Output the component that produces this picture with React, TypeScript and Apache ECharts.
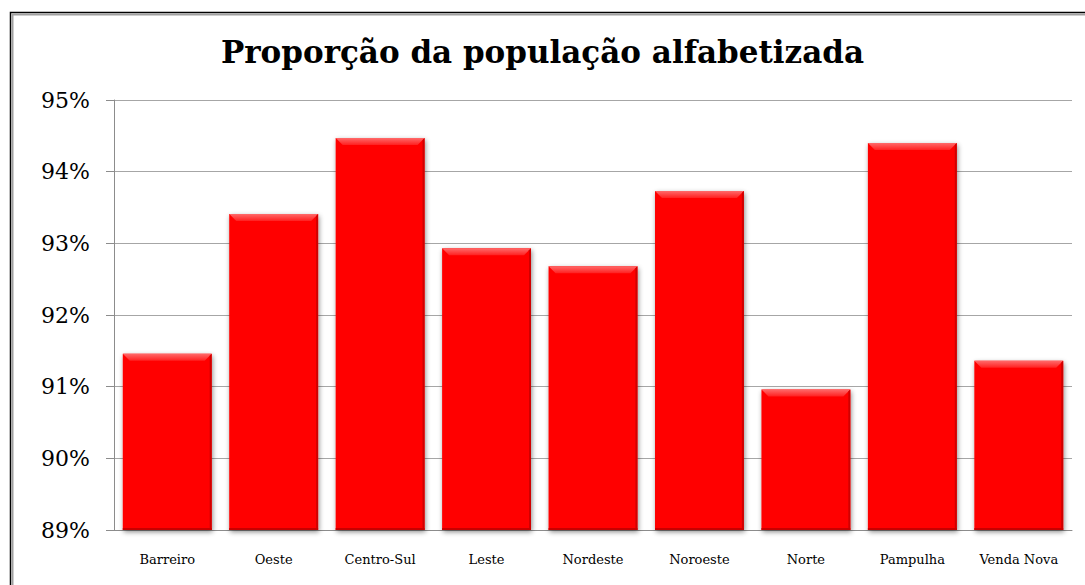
import React, { useEffect, useRef } from "react";
import * as echarts from "echarts";

const categories = ["Barreiro", "Oeste", "Centro-Sul", "Leste", "Nordeste", "Noroeste", "Norte", "Pampulha", "Venda Nova"];
const values = [91.46, 93.41, 94.47, 92.93, 92.68, 93.73, 90.96, 94.4, 91.36];
const yTicks = [89, 90, 91, 92, 93, 94, 95];
const title = "Proporção da população alfabetizada";

export default function App() {
  const ref = useRef<HTMLDivElement>(null);
  useEffect(() => {
    const chart = echarts.init(ref.current!, undefined, { renderer: "svg" });
    const serif = "'DejaVu Serif', 'Liberation Serif', serif";
    chart.setOption({
      animation: false,
      backgroundColor: "#ffffff",
      title: {
        text: title,
        left: "center",
        top: 31,
        textStyle: { fontFamily: serif, fontWeight: "bold", fontSize: 31, color: "#000" },
      },
      grid: { left: 114, right: 13, top: 100, bottom: 55, containLabel: false },
      xAxis: {
        type: "category",
        data: categories,
        axisLine: { show: true, lineStyle: { color: "#8c8c8c", width: 1 } },
        axisTick: { show: false },
        axisLabel: { fontFamily: serif, fontSize: 13, color: "#000", margin: 23, interval: 0 },
      },
      yAxis: {
        type: "value",
        min: yTicks[0],
        max: yTicks[yTicks.length - 1],
        interval: 1,
        axisLine: { show: true, lineStyle: { color: "#8c8c8c", width: 1 } },
        axisTick: { show: true, length: 8, lineStyle: { color: "#8c8c8c" } },
        splitLine: { show: true, lineStyle: { color: "#a6a6a6", width: 1 } },
        axisLabel: { fontFamily: serif, fontSize: 22, color: "#000", margin: 24, formatter: (v: number) => v + "%" },
      },
      graphic: [
        { type: "rect", shape: { x: 10.5, y: 12.5, width: 1100, height: 600 }, style: { fill: "none", stroke: "#000", lineWidth: 1.5 }, silent: true },
        { type: "rect", shape: { x: 12.5, y: 14.5, width: 1100, height: 600 }, style: { fill: "none", stroke: "#a0a0a0", lineWidth: 2 }, silent: true },
      ],
      series: [
        {
          type: "custom",
          data: values.map((v, i) => [i, v]),
          encode: { x: 0, y: 1 },
          renderItem: (params: any, api: any) => {
            const idx = api.value(0);
            const val = api.value(1);
            const top = api.coord([idx, val]);
            const base = api.coord([idx, yTicks[0]]);
            const band = api.size([1, 0])[0];
            const w = band * 0.835;
            const x0 = top[0] - w / 2;
            const y0 = top[1];
            const h = base[1] - top[1];
            const b = 7;
            return {
              type: "group",
              children: [
                {
                  type: "rect",
                  shape: { x: x0, y: y0, width: w, height: h },
                  style: { fill: "#ff0606", shadowBlur: 5, shadowOffsetX: 1, shadowOffsetY: 2, shadowColor: "rgba(0,0,0,0.45)" },
                },
                {
                  type: "polygon",
                  shape: { points: [[x0, y0], [x0 + w, y0], [x0 + w - b, y0 + b], [x0 + b, y0 + b]] },
                  style: {
                    fill: new echarts.graphic.LinearGradient(0, 0, 0, 1, [
                      { offset: 0, color: "#ff6a6a" },
                      { offset: 1, color: "#ff2020" },
                    ]),
                  },
                },
                {
                  type: "polygon",
                  shape: { points: [[x0 + w, y0], [x0 + w, y0 + h], [x0 + w - 2, y0 + h], [x0 + w - 2, y0 + 2]] },
                  style: { fill: "#d00000" },
                },
                {
                  type: "polygon",
                  shape: { points: [[x0, y0 + h - 2], [x0 + w, y0 + h - 2], [x0 + w, y0 + h], [x0, y0 + h]] },
                  style: { fill: "#c80000" },
                },
              ],
            };
          },
        },
      ],
    });
    return () => chart.dispose();
  }, []);
  return (
    <div style={{ position: "fixed", left: 0, top: 0, width: 1085, height: 585 }}>
      <div ref={ref} style={{ width: 1085, height: 585 }} />
    </div>
  );
}
